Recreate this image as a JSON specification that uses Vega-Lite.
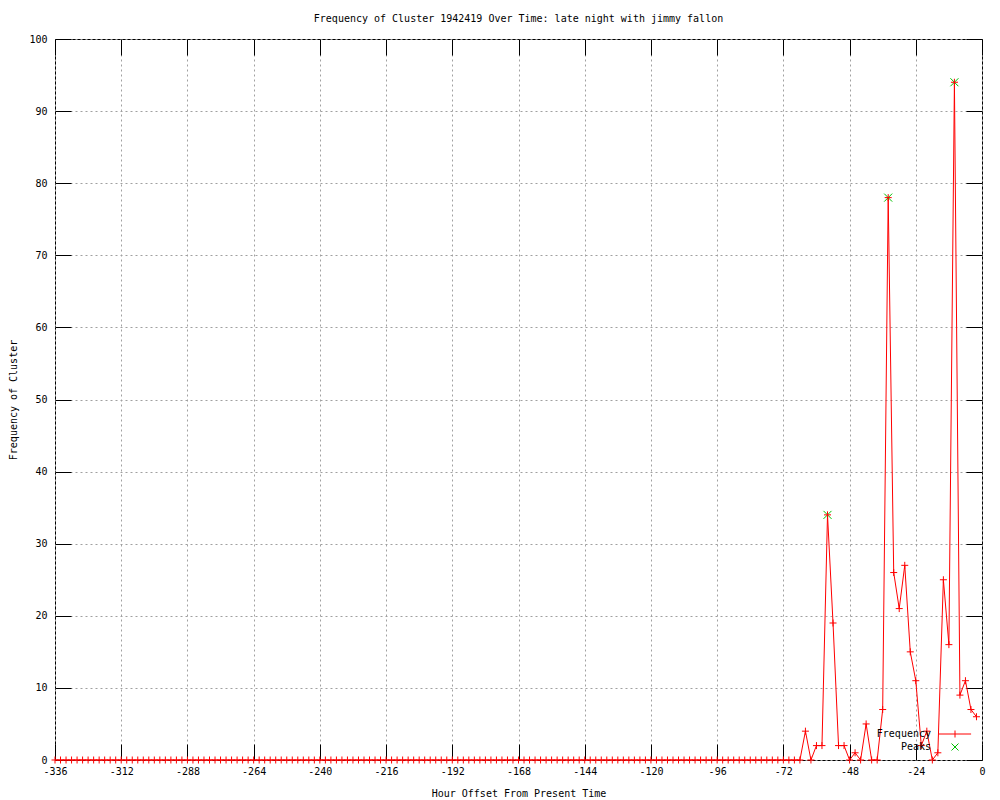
{
  "$schema": "https://vega.github.io/schema/vega-lite/v6.json",
  "width": 927,
  "height": 721,
  "autosize": "none",
  "padding": {"left": 55, "top": 39, "right": 18, "bottom": 40},
  "background": "white",
  "title": {"text": "Frequency of Cluster 1942419 Over Time: late night with jimmy fallon", "font": "DejaVu Sans Mono", "fontSize": 10, "fontWeight": "normal", "color": "black", "anchor": "middle", "offset": 10},
  "config": {
    "view": {"stroke": "black", "strokeWidth": 1},
    "axis": {"labelFont": "DejaVu Sans Mono", "labelFontSize": 10, "labelColor": "black", "titleFont": "DejaVu Sans Mono", "titleFontSize": 10, "titleFontWeight": "normal", "titleColor": "black", "tickColor": "black", "tickWidth": 1, "domain": false, "gridColor": "#a0a0a0", "gridDash": [2, 3], "gridWidth": 1, "gridOpacity": 1}
  },
  "datasets": {
    "freq": [
      {"h":-336,"f":0},{"h":-334,"f":0},{"h":-332,"f":0},{"h":-330,"f":0},{"h":-328,"f":0},{"h":-326,"f":0},{"h":-324,"f":0},{"h":-322,"f":0},{"h":-320,"f":0},{"h":-318,"f":0},{"h":-316,"f":0},{"h":-314,"f":0},{"h":-312,"f":0},{"h":-310,"f":0},{"h":-308,"f":0},{"h":-306,"f":0},{"h":-304,"f":0},{"h":-302,"f":0},{"h":-300,"f":0},{"h":-298,"f":0},{"h":-296,"f":0},{"h":-294,"f":0},{"h":-292,"f":0},{"h":-290,"f":0},{"h":-288,"f":0},{"h":-286,"f":0},{"h":-284,"f":0},{"h":-282,"f":0},{"h":-280,"f":0},{"h":-278,"f":0},{"h":-276,"f":0},{"h":-274,"f":0},{"h":-272,"f":0},{"h":-270,"f":0},{"h":-268,"f":0},{"h":-266,"f":0},{"h":-264,"f":0},{"h":-262,"f":0},{"h":-260,"f":0},{"h":-258,"f":0},{"h":-256,"f":0},{"h":-254,"f":0},{"h":-252,"f":0},{"h":-250,"f":0},{"h":-248,"f":0},{"h":-246,"f":0},{"h":-244,"f":0},{"h":-242,"f":0},{"h":-240,"f":0},{"h":-238,"f":0},{"h":-236,"f":0},{"h":-234,"f":0},{"h":-232,"f":0},{"h":-230,"f":0},{"h":-228,"f":0},{"h":-226,"f":0},{"h":-224,"f":0},{"h":-222,"f":0},{"h":-220,"f":0},{"h":-218,"f":0},{"h":-216,"f":0},{"h":-214,"f":0},{"h":-212,"f":0},{"h":-210,"f":0},{"h":-208,"f":0},{"h":-206,"f":0},{"h":-204,"f":0},{"h":-202,"f":0},{"h":-200,"f":0},{"h":-198,"f":0},{"h":-196,"f":0},{"h":-194,"f":0},{"h":-192,"f":0},{"h":-190,"f":0},{"h":-188,"f":0},{"h":-186,"f":0},{"h":-184,"f":0},{"h":-182,"f":0},{"h":-180,"f":0},{"h":-178,"f":0},{"h":-176,"f":0},{"h":-174,"f":0},{"h":-172,"f":0},{"h":-170,"f":0},{"h":-168,"f":0},{"h":-166,"f":0},{"h":-164,"f":0},{"h":-162,"f":0},{"h":-160,"f":0},{"h":-158,"f":0},{"h":-156,"f":0},{"h":-154,"f":0},{"h":-152,"f":0},{"h":-150,"f":0},{"h":-148,"f":0},{"h":-146,"f":0},{"h":-144,"f":0},{"h":-142,"f":0},{"h":-140,"f":0},{"h":-138,"f":0},{"h":-136,"f":0},{"h":-134,"f":0},{"h":-132,"f":0},{"h":-130,"f":0},{"h":-128,"f":0},{"h":-126,"f":0},{"h":-124,"f":0},{"h":-122,"f":0},{"h":-120,"f":0},{"h":-118,"f":0},{"h":-116,"f":0},{"h":-114,"f":0},{"h":-112,"f":0},{"h":-110,"f":0},{"h":-108,"f":0},{"h":-106,"f":0},{"h":-104,"f":0},{"h":-102,"f":0},{"h":-100,"f":0},{"h":-98,"f":0},{"h":-96,"f":0},{"h":-94,"f":0},{"h":-92,"f":0},{"h":-90,"f":0},{"h":-88,"f":0},{"h":-86,"f":0},{"h":-84,"f":0},{"h":-82,"f":0},{"h":-80,"f":0},{"h":-78,"f":0},{"h":-76,"f":0},{"h":-74,"f":0},{"h":-72,"f":0},{"h":-70,"f":0},{"h":-68,"f":0},{"h":-66,"f":0},
      {"h":-64,"f":4},{"h":-62,"f":0},{"h":-60,"f":2},{"h":-58,"f":2},{"h":-56,"f":34},{"h":-54,"f":19},{"h":-52,"f":2},{"h":-50,"f":2},{"h":-48,"f":0},{"h":-46,"f":1},{"h":-44,"f":0},{"h":-42,"f":5},{"h":-40,"f":0},{"h":-38,"f":0},{"h":-36,"f":7},{"h":-34,"f":78},{"h":-32,"f":26},{"h":-30,"f":21},{"h":-28,"f":27},{"h":-26,"f":15},{"h":-24,"f":11},{"h":-22,"f":2},{"h":-20,"f":4},{"h":-18,"f":0},{"h":-16,"f":1},{"h":-14,"f":25},{"h":-12,"f":16},{"h":-10,"f":94},{"h":-8,"f":9},{"h":-6,"f":11},{"h":-4,"f":7},{"h":-2,"f":6}
    ],
    "peaks": [
      {"h":-56,"f":34,"s":"Peaks"},{"h":-34,"f":78,"s":"Peaks"},{"h":-10,"f":94,"s":"Peaks"}
    ]
  },
  "resolve": {"axis": {"x": "independent", "y": "independent"}},
  "layer": [
    {
      "data": {"name": "freq"},
      "mark": {"type": "line", "color": "#ff0000", "strokeWidth": 1},
      "encoding": {
        "x": {"field": "h", "type": "quantitative", "scale": {"domain": [-336, 0], "nice": false, "zero": false},
              "axis": {"orient": "bottom", "values": [-336,-312,-288,-264,-240,-216,-192,-168,-144,-120,-96,-72,-48,-24,0], "labelExpr": "'' + datum.value", "tickSize": -16, "labelPadding": 22, "grid": true, "title": "Hour Offset From Present Time", "titlePadding": 12, "labelFlush": false}},
        "y": {"field": "f", "type": "quantitative", "scale": {"domain": [0, 100], "nice": false},
              "axis": {"orient": "left", "values": [0,10,20,30,40,50,60,70,80,90,100], "tickSize": -16, "labelPadding": 24, "grid": true, "title": "Frequency of Cluster", "titlePadding": 10}}
      }
    },
    {
      "data": {"name": "peaks"},
      "mark": {"type": "point", "filled": false, "strokeWidth": 1, "opacity": 1, "size": 64},
      "encoding": {
        "x": {"field": "h", "type": "quantitative", "axis": null},
        "y": {"field": "f", "type": "quantitative", "axis": null},
        "color": {"field": "s", "type": "nominal", "scale": {"domain": ["Frequency", "Peaks"], "range": ["#ff0000", "#00c000"]},
          "legend": {"orient": "none", "legendX": 895, "legendY": 690, "title": null, "padding": 0, "labelFont": "DejaVu Sans Mono", "labelFontSize": 10, "labelColor": "black", "labelAlign": "right", "labelOffset": -29, "symbolSize": 49, "symbolStrokeWidth": 1, "rowPadding": 1}},
        "shape": {"field": "s", "type": "nominal", "scale": {"domain": ["Frequency", "Peaks"], "range": ["M-4.6,0H4.6M0,-1V1", "M-1,-1L1,1M-1,1L1,-1"]}}
      }
    },
    {
      "data": {"name": "freq"},
      "mark": {"type": "point", "filled": false, "strokeWidth": 1, "opacity": 1, "color": "#ff0000", "shape": "M-1,0H1M0,-1V1", "size": 49},
      "encoding": {
        "x": {"field": "h", "type": "quantitative",
              "axis": {"orient": "top", "values": [-336,-312,-288,-264,-240,-216,-192,-168,-144,-120,-96,-72,-48,-24,0], "tickSize": -16, "labels": false, "grid": false, "title": null}},
        "y": {"field": "f", "type": "quantitative",
              "axis": {"orient": "right", "values": [0,10,20,30,40,50,60,70,80,90,100], "tickSize": -16, "labels": false, "grid": false, "title": null}}
      }
    }
  ]
}
